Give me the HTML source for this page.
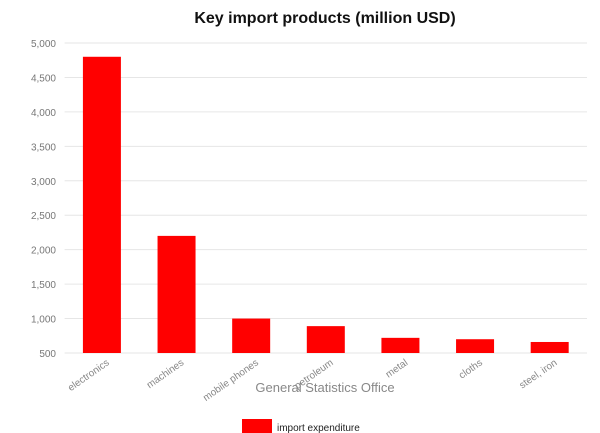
<!DOCTYPE html>
<html><head><meta charset="utf-8"><style>
body{margin:0;background:#fff;}
svg{display:block;font-family:"Liberation Sans",sans-serif;}
</style></head><body>
<svg id="c" width="600" height="433">
<text x="325" y="23" text-anchor="middle" font-size="16" font-weight="bold" fill="#111">Key import products (million USD)</text>
<g id="grid"></g><g id="bars"></g><g id="xl"></g>
<text x="325" y="392" text-anchor="middle" font-size="13" fill="#888">General Statistics Office</text>
<rect x="242" y="419" width="30" height="14" fill="#ff0000"/>
<text x="277" y="431" font-size="10" fill="#222">import expenditure</text>
</svg>
<script>
const categories=["electronics","machines","mobile phones","petroleum","metal","cloths","steel, iron"];
const values=[4800,2200,1000,890,720,700,660];
const ticks=[500,1000,1500,2000,2500,3000,3500,4000,4500,5000];
const NS="http://www.w3.org/2000/svg";
const x0=64.6,x1=587,y0=353,yTop=43;
const y=v=>y0-(v-500)/(5000-500)*(y0-yTop);
const step=(x1-x0)/categories.length;
const xc=i=>x0+step*(i+0.5);
function mk(t,a,p){const e=document.createElementNS(NS,t);for(const k in a)e.setAttribute(k,a[k]);p.appendChild(e);return e;}
const g=document.getElementById('grid');
ticks.forEach(t=>{
 const l=mk('line',{x1:x0,x2:x1,y1:y(t),y2:y(t),stroke:'#e6e6e6'},g);
 
 
 const tx=mk('text',{x:56,y:y(t)+4,'text-anchor':'end','font-size':10,fill:'#777'},g);
 tx.textContent=t.toLocaleString('en-US');
 
 
});
const b=document.getElementById('bars'),xl=document.getElementById('xl');
categories.forEach((c,i)=>{
 const r=mk('rect',{x:xc(i)-19,y:y(values[i]),width:38,height:y0-y(values[i]),fill:'#ff0000'},b);
 
 
 const t=mk('text',{x:xc(i)+8,y:y0+11,'text-anchor':'end','font-size':10,fill:'#888',transform:`rotate(-35 ${xc(i)+8} ${y0+11})`},xl);
 t.textContent=c;
 
 
});
</script>
</body></html>
